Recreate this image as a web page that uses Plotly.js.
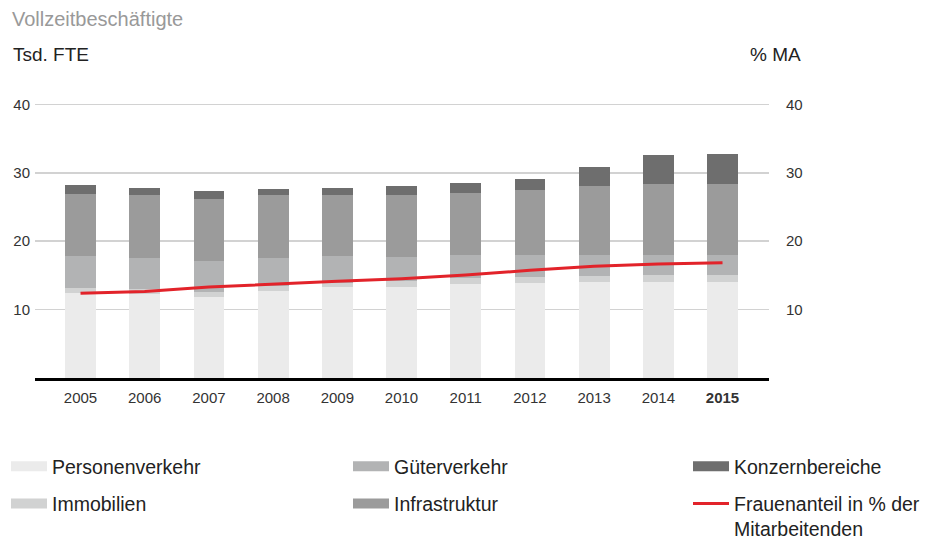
<!DOCTYPE html>
<html>
<head>
<meta charset="utf-8">
<script src="https://cdn.plot.ly/plotly-3.0.1.min.js"></script>
<style>html,body{margin:0;padding:0;background:#fff}#chart{width:927px;height:540px}</style>
</head>
<body>
<div id="chart"></div>
<script>
var years = ['2005','2006','2007','2008','2009','2010','2011','2012','2013','2014','2015'];
var tickLabels = ['2005','2006','2007','2008','2009','2010','2011','2012','2013','2014','<b>2015</b>'];
var personenverkehr = [12.4, 12.25, 11.8, 12.65, 13.25, 13.25, 13.7, 13.9, 14.1, 14.1, 14.1];
var immobilien      = [0.7, 0.7, 0.75, 0.85, 0.65, 1.0, 0.85, 0.8, 0.75, 0.9, 0.9];
var gueterverkehr   = [4.8, 4.55, 4.5, 4.1, 3.9, 3.4, 3.4, 3.25, 3.1, 2.95, 3.05];
var infrastruktur   = [9.05, 9.2, 9.05, 9.1, 8.9, 9.05, 9.15, 9.6, 10.05, 10.35, 10.25];
var konzernbereiche = [1.2, 1.15, 1.3, 1.0, 1.15, 1.3, 1.35, 1.6, 2.9, 4.35, 4.5];
var frauenanteil    = [12.4, 12.65, 13.3, 13.75, 14.15, 14.5, 15.05, 15.75, 16.35, 16.65, 16.85];
var leftTicks = [10, 20, 30, 40];

var FONT = 'Liberation Sans, Arial, Helvetica, sans-serif';
var series = [
  {name: 'Personenverkehr', y: personenverkehr, color: '#ebebeb', legend: 'legend',  rank: 1},
  {name: 'Immobilien',      y: immobilien,      color: '#d1d2d2', legend: 'legend',  rank: 2},
  {name: 'Güterverkehr',    y: gueterverkehr,   color: '#b2b3b4', legend: 'legend2', rank: 3},
  {name: 'Infrastruktur',   y: infrastruktur,   color: '#9b9b9b', legend: 'legend2', rank: 4},
  {name: 'Konzernbereiche', y: konzernbereiche, color: '#6e6e6e', legend: 'legend3', rank: 5}
];

var traces = [];
series.forEach(function(s){
  traces.push({
    type: 'bar', x: years, y: s.y, name: s.name,
    marker: {color: s.color, line: {width: 0}},
    width: 0.48, showlegend: false, hoverinfo: 'skip'
  });
});
traces.push({
  type: 'scatter', mode: 'lines', x: years, y: frauenanteil, yaxis: 'y2',
  name: 'Frauenanteil in % der<br>Mitarbeitenden',
  line: {color: '#e2232a', width: 3}, showlegend: false, hoverinfo: 'skip'
});
// legend entries (wide swatches)
series.forEach(function(s){
  traces.push({
    type: 'scatter', mode: 'lines', x: [null], y: [null], name: s.name,
    line: {color: s.color, width: 11}, legend: s.legend, legendgroup: 'g' + s.rank,
    legendrank: s.rank, hoverinfo: 'skip'
  });
});
traces.push({
  type: 'scatter', mode: 'lines', x: [null], y: [null],
  name: 'Frauenanteil in % der<br>Mitarbeitenden',
  line: {color: '#e2232a', width: 3}, legend: 'legend3', legendgroup: 'g6',
  legendrank: 6, hoverinfo: 'skip'
});

var legendBase = {
  orientation: 'v', xref: 'container', yref: 'container', yanchor: 'top', xanchor: 'left',
  bgcolor: 'rgba(0,0,0,0)', borderwidth: 0, tracegroupgap: 9, valign: 'top', itemwidth: 36,
  font: {family: FONT, size: 19.5, color: '#222'}, itemclick: false, itemdoubleclick: false
};
function leg(xpx){ var o = Object.assign({}, legendBase); o.x = xpx / 927; o.y = 1 - 447 / 540; return o; }

var layout = {
  width: 927, height: 540,
  margin: {l: 35, r: 158, t: 101, b: 162, autoexpand: false},
  paper_bgcolor: '#fff', plot_bgcolor: '#fff',
  barmode: 'stack', bargap: 0.52,
  font: {family: FONT, color: '#333'},
  title: {
    text: 'Vollzeitbeschäftigte', xref: 'container', yref: 'container',
    x: 12 / 927, xanchor: 'left', y: 1 - 19 / 540, yanchor: 'middle',
    font: {family: FONT, size: 20, color: '#999'}
  },
  xaxis: {
    type: 'category', range: [-0.709, 10.724], fixedrange: true,
    tickmode: 'array', tickvals: years, ticktext: tickLabels,
    showgrid: false, zeroline: false, ticks: '', ticklabelstandoff: 4,
    showline: true, linecolor: '#000', linewidth: 3,
    tickfont: {family: FONT, size: 15, color: '#333'}
  },
  yaxis: {
    range: [0, 40.5], fixedrange: true, tickmode: 'array', tickvals: leftTicks,
    showgrid: true, gridcolor: '#d2d2d2', gridwidth: 1.5, zeroline: false,
    showline: false, ticks: '', ticklabelstandoff: 4,
    tickfont: {family: FONT, size: 15, color: '#333'}
  },
  yaxis2: {
    overlaying: 'y', side: 'right', range: [0, 40.5], fixedrange: true,
    tickmode: 'array', tickvals: leftTicks, showgrid: false, zeroline: false,
    showline: false, ticks: '', ticklabelstandoff: 16,
    tickfont: {family: FONT, size: 15, color: '#333'}
  },
  legend: leg(6),
  legend2: leg(348),
  legend3: leg(688),
  annotations: [
    {text: 'Tsd. FTE', xref: 'paper', yref: 'paper', x: (11 - 35) / 734, xanchor: 'left',
     y: (378 - 54) / 277, yanchor: 'middle', showarrow: false,
     font: {family: FONT, size: 19, color: '#222'}},
    {text: '% MA', xref: 'paper', yref: 'paper', x: (803 - 35) / 734, xanchor: 'right',
     y: (378 - 54) / 277, yanchor: 'middle', showarrow: false,
     font: {family: FONT, size: 19, color: '#222'}}
  ]
};

Plotly.newPlot('chart', traces, layout, {displayModeBar: false, staticPlot: true});
</script>
</body>
</html>
